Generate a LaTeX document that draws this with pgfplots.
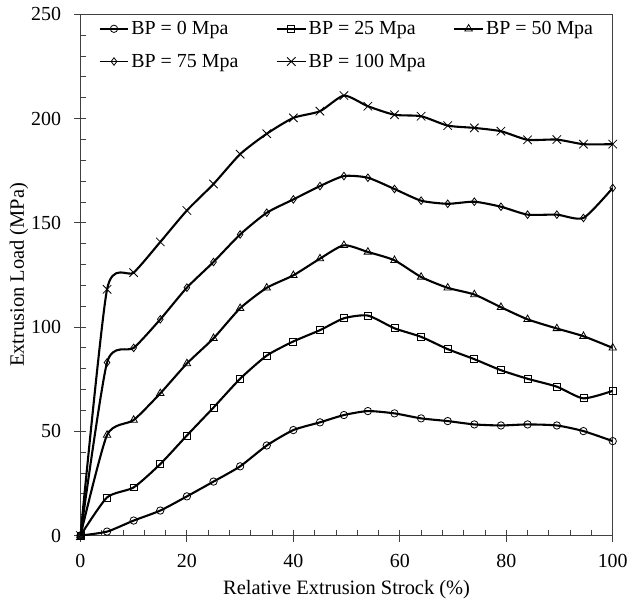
\documentclass[border=0pt]{standalone}
\usepackage{fontspec}
\setmainfont{Liberation Serif}
\usepackage{pgfplots}
\usepackage{pgfplotstable}
\pgfplotsset{compat=1.18}
\pgfplotstableread{
x     a     b     c     d     e
0     0     0     0     0     0
5     1.9   18.3  48.2  83.0  118.1
10    7.2   23.1  55.4  90.0  126.1
15    12.0  34.3  68.2  103.7 140.8
20    18.8  48.0  82.5  118.9 155.9
25    25.9  61.4  94.6  131.2 168.6
30    33.2  75.2  109.0 144.4 182.9
35    43.2  86.3  118.8 154.8 192.7
40    50.6  93.1  124.8 161.2 200.3
45    54.3  98.5  132.8 167.6 203.5
49.5  57.8  104.2 139.2 172.4 211.0
54    59.7  105.5 136.0 171.6 205.9
59    58.6  99.4  132.0 166.2 201.8
64    56.2  95.3  124.0 160.6 201.1
69    54.9  89.4  118.8 159.1 196.6
74    53.3  84.6  115.6 160.1 195.5
79    52.8  79.3  109.5 157.7 193.9
84    53.3  75.2  103.7 153.9 189.8
89.5  52.8  71.4  99.3  153.9 189.9
94.5  50.1  65.8  95.6  152.3 187.7
100   45.3  69.4  90.0  166.7 187.7
}\datatable
\begin{document}
\begin{tikzpicture}
\begin{axis}[
  name=ax,
  scale only axis,
  width=534pt, height=523pt,
  xmin=0, xmax=100, ymin=0, ymax=250,
  xtick distance=20, ytick distance=50,
  minor tick num=4,
  xtick pos=left, ytick pos=left,
  tick align=center,
  major tick length=12pt,
  minor tick length=5.5pt,
  minor x tick style={yshift=2.75pt},
  minor y tick style={xshift=2.75pt},
  axis line style={black!75, line width=0.8pt},
  every tick/.style={black!75, line width=0.8pt},
  /pgf/number format/assume math mode=true,
  tick label style={font=\fontsize{20}{20}\selectfont},
  xticklabel style={yshift=-9.5pt},
  yticklabel style={xshift=-10pt},
  label style={font=\fontsize{20.5}{20.5}\selectfont},
  xlabel={Relative Extrusion Strock (\%)},
  xlabel style={yshift=-5pt},
  ylabel={Extrusion Load (MPa)},
  ylabel style={yshift=-4pt},
  every axis plot/.append style={black, line width=2.1pt, smooth, tension=0.38,
    mark options={solid, fill=white, line width=0.8pt}},
  legend columns=3,
  legend cell align=left,
  legend style={at={(0,1)}, anchor=north west, xshift=18pt, yshift=-5pt,
    draw=none, fill=none, inner sep=0pt, row sep=14pt,
    font=\fontsize{20}{20}\selectfont},
  legend image code/.code={\draw[mark repeat=2,mark phase=2,line width=1.9pt]
     plot coordinates {(0pt,0pt)(14.5pt,0pt)(29pt,0pt)};},
]
\addplot[mark=o, mark size=3.7pt] table[x=x,y=a] {\datatable};
\addlegendentry{\makebox[143pt][l]{BP = 0 Mpa}}
\addplot[mark=square, mark size=3.5pt] table[x=x,y=b] {\datatable};
\addlegendentry{\makebox[143pt][l]{BP = 25 Mpa}}
\addplot[mark=triangle, mark size=4.3pt] table[x=x,y=c] {\datatable};
\addlegendentry{BP = 50 Mpa}
\addplot[mark=diamond, mark size=3.8pt] table[x=x,y=d] {\datatable};
\addlegendentry{\makebox[143pt][l]{BP = 75 Mpa}}
\addplot[mark=x, mark size=6pt] table[x=x,y=e] {\datatable};
\addlegendentry{\makebox[143pt][l]{BP = 100 Mpa}}
\end{axis}
\path (ax.south west) ++(-80.7pt,-65.7pt) coordinate (bbA);
\path (ax.north east) ++(16.5pt,14.3pt) coordinate (bbB);
\path[use as bounding box] (bbA) rectangle (bbB);
\end{tikzpicture}
\end{document}
